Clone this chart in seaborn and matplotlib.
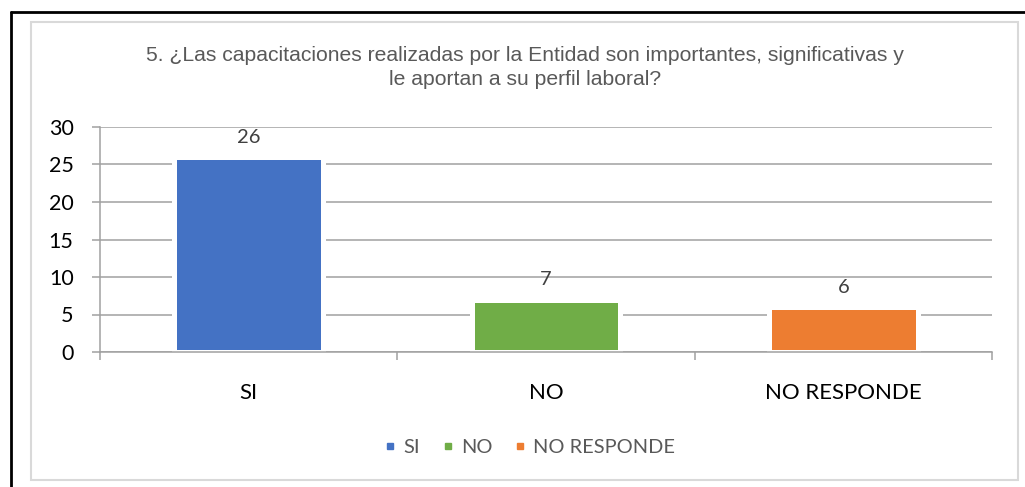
import matplotlib
matplotlib.use("Agg")
import matplotlib.pyplot as plt
from matplotlib.lines import Line2D
from matplotlib.patches import Rectangle
import seaborn as sns
import pandas as pd

# Survey answers
categories = ["SI", "NO", "NO RESPONDE"]
counts = [26, 7, 6]
colors = ["#4472C4", "#70AD47", "#ED7D31"]
title_text = ("5. ¿Las capacitaciones realizadas por la Entidad son importantes, significativas y\n"
              "le aportan a su perfil laboral?")
y_ticks = [0, 5, 10, 15, 20, 25, 30]

df = pd.DataFrame({"respuesta": categories, "cantidad": counts})

sns.set_theme(style="white")
plt.rcParams["font.family"] = ["Lato", "DejaVu Sans"]

fig = plt.figure(figsize=(10.25, 4.87), dpi=100)
ax = fig.add_axes([100 / 1025, 1 - 352 / 487, 892 / 1025, 225 / 487])

sns.barplot(data=df, x="respuesta", y="cantidad", hue="respuesta",
            palette=colors, order=categories, hue_order=categories,
            width=0.5, saturation=1, legend=False, ax=ax,
            edgecolor="white", linewidth=3.6, zorder=3)

ax.set_ylim(0, 30)
ax.set_xlim(-0.5, 2.5)
ax.set_yticks(y_ticks)
ax.set_yticklabels([str(t) for t in y_ticks], fontsize=15.5, color="black")
ax.set_xlabel("")
ax.set_ylabel("")

# Horizontal gridlines behind the bars
ax.grid(axis="y", color="#a0a0a0", linewidth=1.1, zorder=0)
ax.set_axisbelow(True)

for side in ("top", "right"):
    ax.spines[side].set_visible(False)
for side in ("left", "bottom"):
    ax.spines[side].set_color("#a0a0a0")
    ax.spines[side].set_linewidth(1.1)
    ax.spines[side].set_zorder(4)

ax.tick_params(axis="y", which="major", direction="out", length=6,
               width=1.1, color="#a0a0a0", pad=13, left=True)

# Category names centred, ticks at the category boundaries
ax.set_xticks([0, 1, 2])
ax.set_xticklabels(categories, fontsize=16, color="black")
ax.tick_params(axis="x", which="major", length=0, pad=22)
ax.set_xticks([-0.5, 0.5, 1.5, 2.5], minor=True)
ax.tick_params(axis="x", which="minor", direction="out", length=6,
               width=1.1, color="#a0a0a0", bottom=True)

# Value labels above each bar
for bar_patch, value in zip(ax.patches, counts):
    ax.annotate(str(value),
                (bar_patch.get_x() + bar_patch.get_width() / 2, value),
                xytext=(0, 8), textcoords="offset points",
                ha="center", va="bottom", fontsize=14.5, color="#404040")

fig.text(0.512, 1 - 67.5 / 487, title_text, ha="center", va="center",
         fontsize=15.2, color="#595959", family="Liberation Sans",
         linespacing=1.35)

handles = [Line2D([0], [0], marker="s", linestyle="none", markersize=5,
                  markerfacecolor=c, markeredgecolor=c) for c in colors]
fig.legend(handles, categories, loc="center", bbox_to_anchor=(0.515, 0.082),
           ncol=3, frameon=False, fontsize=14.4, labelcolor="#595959",
           handletextpad=0.15, columnspacing=0.9, handlelength=1.0)

# Chart area frame and outer page border
fig.add_artist(Rectangle((31 / 1025, 1 - 480 / 487), 987 / 1025, 458 / 487,
                         transform=fig.transFigure, fill=False,
                         edgecolor="#d9d9d9", linewidth=1.5))
fig.add_artist(Line2D([11 / 1025, 11 / 1025], [0, 1 - 12 / 487],
                      transform=fig.transFigure, color="black", linewidth=2))
fig.add_artist(Line2D([11 / 1025, 1], [1 - 12 / 487, 1 - 12 / 487],
                      transform=fig.transFigure, color="black", linewidth=2))

fig.savefig("out.png", dpi=100)
